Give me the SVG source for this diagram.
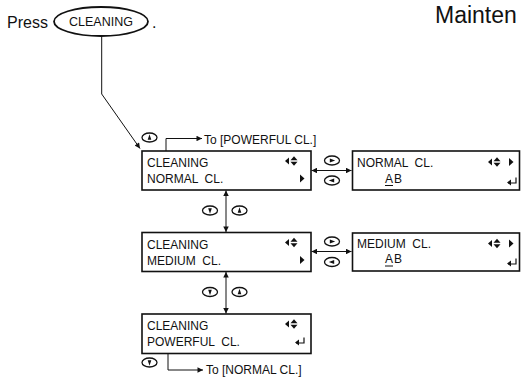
<svg xmlns="http://www.w3.org/2000/svg" width="521" height="378" viewBox="0 0 521 378">
<style>
text{font-family:"Liberation Sans",Arial,sans-serif;fill:#111}
.t{font-size:12px}
.box{fill:#fff;stroke:#111;stroke-width:1.6}
.ln{fill:none;stroke:#111;stroke-width:1}
.ic{fill:#fff;stroke:#111;stroke-width:1.3}
.sym{fill:#111}
.rt{fill:none;stroke:#111;stroke-width:1.2}
</style>
<defs>
<marker id="ah" viewBox="0 0 10 10" refX="10" refY="5" markerWidth="7" markerHeight="5.5" orient="auto-start-reverse" markerUnits="userSpaceOnUse">
<path d="M0,0 L10,5 L0,10 z" fill="#111"/>
</marker>
<g id="icUp"><ellipse rx="7.5" ry="4.5" class="ic"/><path d="M0,-3.2 L1.8,2.2 L-1.8,2.2 z" class="sym"/></g>
<g id="icDn"><ellipse rx="7.5" ry="4.5" class="ic"/><path d="M0,3.2 L1.8,-2.2 L-1.8,-2.2 z" class="sym"/></g>
<g id="icR"><ellipse rx="7.5" ry="4.5" class="ic"/><path d="M3.2,0 L-2.2,-2 L-2.2,2 z" class="sym"/></g>
<g id="icL"><ellipse rx="7.5" ry="4.5" class="ic"/><path d="M-3.2,0 L2.2,-2 L2.2,2 z" class="sym"/></g>
<g id="lud"><path d="M0,0 L4,-3.5 L4,3.5 z" class="sym"/><path d="M5.5,-0.8 L9,-4.8 L12.5,-0.8 z M5.5,0.8 L9,4.8 L12.5,0.8 z" class="sym"/></g>
<path id="tri" d="M0,-4 L4.5,0 L0,4 z" class="sym"/>
<path id="ret" d="M9,-4.5 V1 H1" class="rt"/>
<path id="reth" d="M0,1 L4,-2 L4,4 z" class="sym"/>
</defs>

<g id="title">
<text x="435" y="23" font-size="23">Mainten</text>
</g>

<g id="press">
<text x="7" y="28" font-size="16">Press</text>
<ellipse cx="101" cy="21.5" rx="47" ry="14.5" fill="#fff" stroke="#111" stroke-width="1.8"/>
<text x="101" y="26.3" font-size="12.5" text-anchor="middle">CLEANING</text>
<text x="152" y="28" font-size="16">.</text>
</g>

<g id="connectors">
<path d="M101.7,36 V94 L140,148.5" class="ln" marker-end="url(#ah)"/>
<path d="M166,151 V138.5 H202" class="ln" marker-end="url(#ah)"/>
<path d="M168,353.5 V370 H203" class="ln" marker-end="url(#ah)"/>
<path d="M226,190.5 V232" class="ln" marker-start="url(#ah)" marker-end="url(#ah)"/>
<path d="M226,272 V313.5" class="ln" marker-start="url(#ah)" marker-end="url(#ah)"/>
<path d="M311.5,170.5 H351.5" class="ln" marker-start="url(#ah)" marker-end="url(#ah)"/>
<path d="M311.5,251.5 H351.5" class="ln" marker-start="url(#ah)" marker-end="url(#ah)"/>
<use href="#icUp" x="149.5" y="137.5"/>
<use href="#icDn" x="210" y="210.5"/>
<use href="#icUp" x="239.5" y="210.5"/>
<use href="#icDn" x="210" y="292"/>
<use href="#icUp" x="239.5" y="292"/>
<use href="#icDn" x="149.5" y="362.5"/>
<use href="#icR" x="332" y="160.5"/>
<use href="#icL" x="332" y="180.5"/>
<use href="#icR" x="332" y="241.5"/>
<use href="#icL" x="332" y="262"/>
<text x="204" y="143.5" class="t">To [POWERFUL CL.]</text>
<text x="206" y="373.5" class="t">To [NORMAL CL.]</text>
</g>

<g id="box-normal">
<rect x="142" y="151" width="169" height="39" class="box"/>
<text x="147" y="167" class="t">CLEANING</text>
<text x="147" y="183" class="t" xml:space="preserve">NORMAL  CL.</text>
<use href="#lud" x="285" y="161"/>
<use href="#tri" x="300" y="178.5"/>
</g>

<g id="box-medium">
<rect x="142" y="232.5" width="169" height="39" class="box"/>
<text x="147" y="248.5" class="t">CLEANING</text>
<text x="147" y="264.5" class="t" xml:space="preserve">MEDIUM  CL.</text>
<use href="#lud" x="285" y="242.5"/>
<use href="#tri" x="300" y="260"/>
</g>

<g id="box-powerful">
<rect x="142" y="314" width="169" height="39.5" class="box"/>
<text x="147" y="330" class="t">CLEANING</text>
<text x="147" y="346" class="t" xml:space="preserve">POWERFUL  CL.</text>
<use href="#lud" x="285" y="324"/>
<use href="#ret" x="295" y="342"/>
<use href="#reth" x="295" y="341.5"/>
</g>

<g id="box-normal-ab">
<rect x="352.5" y="151" width="167" height="39" class="box"/>
<text x="357" y="167" class="t" xml:space="preserve">NORMAL  CL.</text>
<text x="385" y="182.5" class="t" letter-spacing="1">AB</text>
<line x1="385" y1="185.5" x2="393" y2="185.5" stroke="#111" stroke-width="1"/>
<use href="#lud" x="488" y="162"/>
<use href="#tri" x="509" y="162"/>
<use href="#ret" x="507" y="182"/>
<use href="#reth" x="507" y="181.5"/>
</g>

<g id="box-medium-ab">
<rect x="352.5" y="233" width="167" height="38" class="box"/>
<text x="357" y="248" class="t" xml:space="preserve">MEDIUM  CL.</text>
<text x="385" y="263" class="t" letter-spacing="1">AB</text>
<line x1="385" y1="266" x2="393" y2="266" stroke="#111" stroke-width="1"/>
<use href="#lud" x="488" y="243.5"/>
<use href="#tri" x="509" y="243.5"/>
<use href="#ret" x="507" y="263"/>
<use href="#reth" x="507" y="262.5"/>
</g>
</svg>
